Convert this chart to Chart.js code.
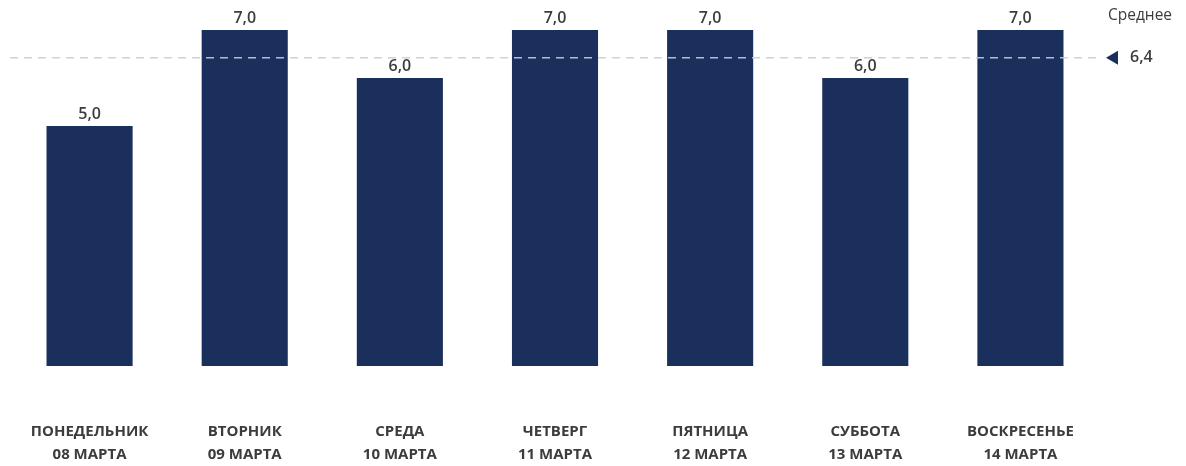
<!DOCTYPE html>
<html>
<head>
<meta charset="utf-8">
<script src="https://cdn.jsdelivr.net/npm/chart.js@4/dist/chart.umd.min.js"></script>
<style>
  html, body { margin: 0; padding: 0; background: #fff; }
  #wrap { width: 1186px; height: 466px; position: relative; }
</style>
</head>
<body>
<div id="wrap"><canvas id="chart"></canvas></div>
<script>
const days = ['ПОНЕДЕЛЬНИК', 'ВТОРНИК', 'СРЕДА', 'ЧЕТВЕРГ', 'ПЯТНИЦА', 'СУББОТА', 'ВОСКРЕСЕНЬЕ'];
const dates = ['08 МАРТА', '09 МАРТА', '10 МАРТА', '11 МАРТА', '12 МАРТА', '13 МАРТА', '14 МАРТА'];
const values = [5.0, 7.0, 6.0, 7.0, 7.0, 6.0, 7.0];
const average = 6.4;
const averageLabel = 'Среднее';

const navy = '#1b2f5c';
const textColor = '#3c3c3c';
const fontFamily = '"Open Sans", "Noto Sans", sans-serif';

function fmt(v) {
  return v.toFixed(1).replace('.', ',');
}

const overlay = {
  id: 'overlay',
  afterDatasetsDraw(chart) {
    const ctx = chart.ctx;
    const x = chart.scales.x;
    const y = chart.scales.y;
    const area = chart.chartArea;
    ctx.save();

    // value labels
    ctx.fillStyle = textColor;
    ctx.font = '600 16px ' + fontFamily;
    ctx.textAlign = 'center';
    ctx.textBaseline = 'bottom';
    values.forEach(function(v, i) {
      ctx.fillText(fmt(v), x.getPixelForValue(i), y.getPixelForValue(v) - 4);
    });

    // category labels
    ctx.font = 'bold 15px ' + fontFamily;
    ctx.textBaseline = 'middle';
    days.forEach(function(d, i) {
      const cx = x.getPixelForValue(i);
      ctx.fillText(d, cx, area.bottom + 66);
      ctx.fillText(dates[i], cx, area.bottom + 89);
    });

    // average line
    const ay = y.getPixelForValue(average) - 1;
    ctx.strokeStyle = 'rgba(200,205,212,0.9)';
    ctx.lineWidth = 1.5;
    ctx.setLineDash([8, 6]);
    ctx.beginPath();
    ctx.moveTo(area.left - 2, ay);
    ctx.lineTo(area.right + 2, ay);
    ctx.stroke();
    ctx.setLineDash([]);

    // marker
    const tx = area.right + 8;
    ctx.fillStyle = navy;
    ctx.beginPath();
    ctx.moveTo(tx, ay);
    ctx.lineTo(tx + 12, ay - 7);
    ctx.lineTo(tx + 12, ay + 7);
    ctx.closePath();
    ctx.fill();

    ctx.fillStyle = textColor;
    ctx.font = '600 16px ' + fontFamily;
    ctx.textAlign = 'left';
    ctx.fillText(fmt(average), tx + 24, ay);
    ctx.font = '15.5px ' + fontFamily;
    ctx.fillText(averageLabel, tx + 2, 16);

    ctx.restore();
  }
};

new Chart(document.getElementById('chart'), {
  type: 'bar',
  data: {
    labels: days,
    datasets: [{
      data: values,
      backgroundColor: navy,
      borderWidth: 0,
      categoryPercentage: 1,
      barPercentage: 0.555
    }]
  },
  options: {
    responsive: true,
    maintainAspectRatio: false,
    animation: false,
    layout: { padding: { left: 12, right: 88, top: 6, bottom: 100 } },
    plugins: { legend: { display: false }, tooltip: { enabled: false } },
    scales: {
      x: { display: false },
      y: { display: false, min: 0, max: 7.5 }
    }
  },
  plugins: [overlay]
});
</script>
</body>
</html>
